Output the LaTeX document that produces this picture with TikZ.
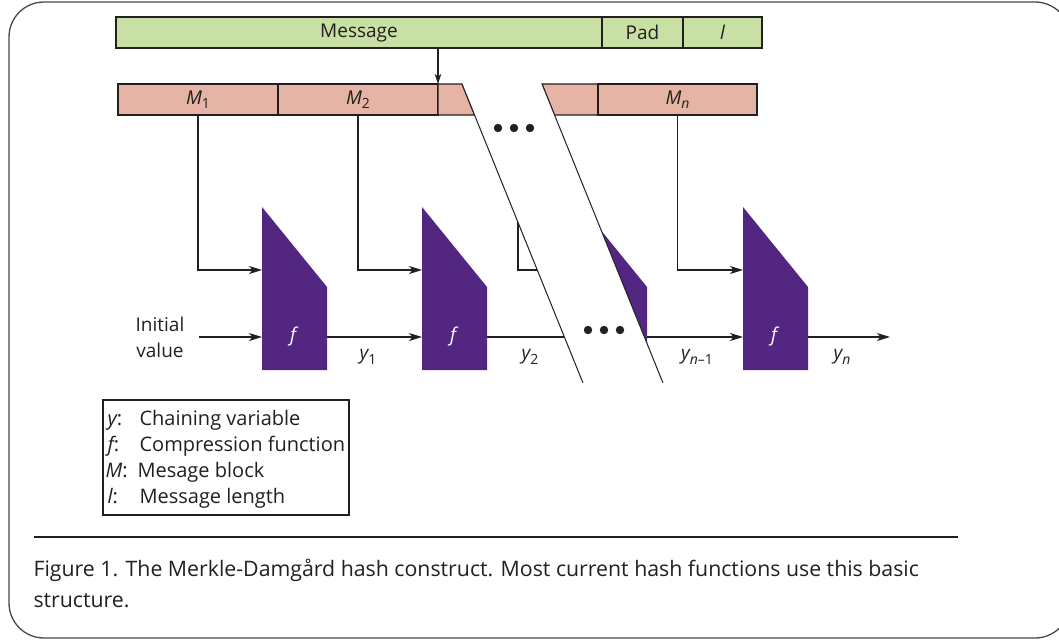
\documentclass[tikz,border=0pt]{standalone}
\usepackage{fontspec}
\setmainfont{Open Sans}
\usetikzlibrary{arrows.meta}
\definecolor{grn}{RGB}{201,224,165}
\definecolor{pnk}{RGB}{230,180,164}
\definecolor{prp}{RGB}{83,38,130}
\definecolor{ink}{RGB}{35,31,32}
\definecolor{frm}{RGB}{70,70,70}
\newcommand\sbs[1]{\raisebox{-4.5pt}{\fontsize{14}{14}\selectfont #1}}
\begin{document}
\begin{tikzpicture}[x=1pt,y=-1pt,line width=1.1pt,
  every node/.style={text=ink,font=\fontsize{19}{24}\selectfont},
  gbox/.style={draw=ink,fill=grn,minimum height=31pt,inner sep=0pt,line width=1.1pt},
  pbox/.style={draw=ink,fill=pnk,minimum height=31pt,inner sep=0pt,line width=1.1pt},
  conn/.style={draw=ink,line width=1.1pt},
  arr/.style={conn,-{Stealth[length=13pt,width=8pt,inset=3.5pt]}},
  fblk/.style={fill=prp},
  flab/.style={text=white,font=\fontsize{19}{24}\selectfont\itshape},
  lbl/.style={anchor=base west,inner sep=0pt,font=\fontsize{20}{24}\selectfont},
  captxt/.style={anchor=base west,inner sep=0pt,font=\fontsize{21.3}{24}\selectfont}]
\useasboundingbox (0,0) rectangle (1059,640);
% frame
\draw[frm,line width=1.3pt,rounded corners=35pt] (9,2) rectangle (1070,638);
% message bar
\node[gbox,minimum width=486pt] (msg) at (359,32.5) {Message};
\node[gbox,minimum width=81pt] (pad) at (642.5,32.5) {Pad};
\node[gbox,minimum width=79pt] (len) at (722.5,32.5) {\itshape l};
% blocks bar
\node[pbox,minimum width=160pt] (m1) at (198,99.5) {\itshape M\sbs{\upshape 1}};
\node[pbox,minimum width=160pt] (m2) at (358,99.5) {\itshape M\sbs{\upshape 2}};
\filldraw[fill=pnk,draw=ink,line width=1.1pt] (438,84) -- (462,84) -- (474.5,115) -- (438,115) -- cycle;
\filldraw[fill=pnk,draw=ink,line width=1.1pt] (542,84) -- (598,84) -- (598,115) -- (554.5,115) -- cycle;
\node[pbox,minimum width=159pt] (mn) at (677.5,99.5) {\itshape M\sbs{n}};
\coordinate (m3) at (518,115);
\coordinate (split) at (438,84);
\draw[conn,-{Stealth[length=10pt,width=6.5pt,inset=2.5pt]}] (msg.south -| split) -- (split);
% compression blocks
\foreach \x/\n in {262/1,422/2,582/3,743/4}{
  \fill[fblk] (\x,207) -- (\x+65,287) -- (\x+65,370) -- (\x,370) -- cycle;
  \coordinate (f\n in) at (\x,270);
  \coordinate (f\n w) at (\x,337);
  \coordinate (f\n e) at (\x+65,337);
  \node[flab] (f\n lab) at (\x+31,337) {f};
}
% feeders
\draw[arr] (m1.south) |- (f1in);
\draw[arr] (m2.south) |- (f2in);
\draw[arr] (m3) |- (f3in);
\draw[arr] (mn.south) |- (f4in);
% chain
\node[align=center,inner sep=0pt] (iv) at (160,337) {Initial\\[2pt]value};
\coordinate (ivs) at (199,337);
\coordinate (out) at (890,337);
\draw[arr] (ivs) -- (f1w);
\draw[arr] (f1e) -- (f2w);
\draw[arr] (f2e) -- (f3w);
\draw[arr] (f3e) -- (f4w);
\draw[arr] (f4e) -- (out);
% mask band
\fill[white] (462,84) -- (542,84) -- (663,383) -- (583,383) -- cycle;
\draw[conn,line width=1pt] (462,84) -- (583,383);
\draw[conn,line width=1pt] (542,84) -- (663,383);
\foreach \x in {498,514,530}{\fill[ink] (\x,128) circle (4.2);}
\foreach \x in {588,604,620}{\fill[ink] (\x,330) circle (4.2);}
% chain labels
\node (y1) at (368,357) {\itshape y\sbs{\upshape 1}};
\node (y2) at (530,357) {\itshape y\sbs{\upshape 2}};
\node (yn1) at (697,357) {\itshape y\sbs{n\upshape –1}};
\node (yn) at (842,357) {\itshape y\sbs{n}};
% legend
\draw[ink,line width=1.1pt] (103,400) rectangle (349,515);
\node[lbl] (k1) at (107,425) {\itshape y\upshape :};
\node[lbl] (v1) at (139,425) {Chaining variable};
\node[lbl] (k2) at (107,451) {\itshape f\upshape :};
\node[lbl] (v2) at (139,451) {Compression function};
\node[lbl] (k3) at (105,477) {\itshape M\upshape :};
\node[lbl] (v3) at (137,477) {Mesage block};
\node[lbl] (k4) at (107,503) {\itshape l\upshape :};
\node[lbl] (v4) at (139,503) {Message length};
% caption
\draw[ink,line width=1.2pt] (34,537) -- (958,537);
\node[captxt] (c1) at (33,576) {Figure 1. The Merkle-Damgård hash construct. Most current hash functions use this basic};
\node[captxt] (c2) at (33,607) {structure.};
\end{tikzpicture}
\end{document}
